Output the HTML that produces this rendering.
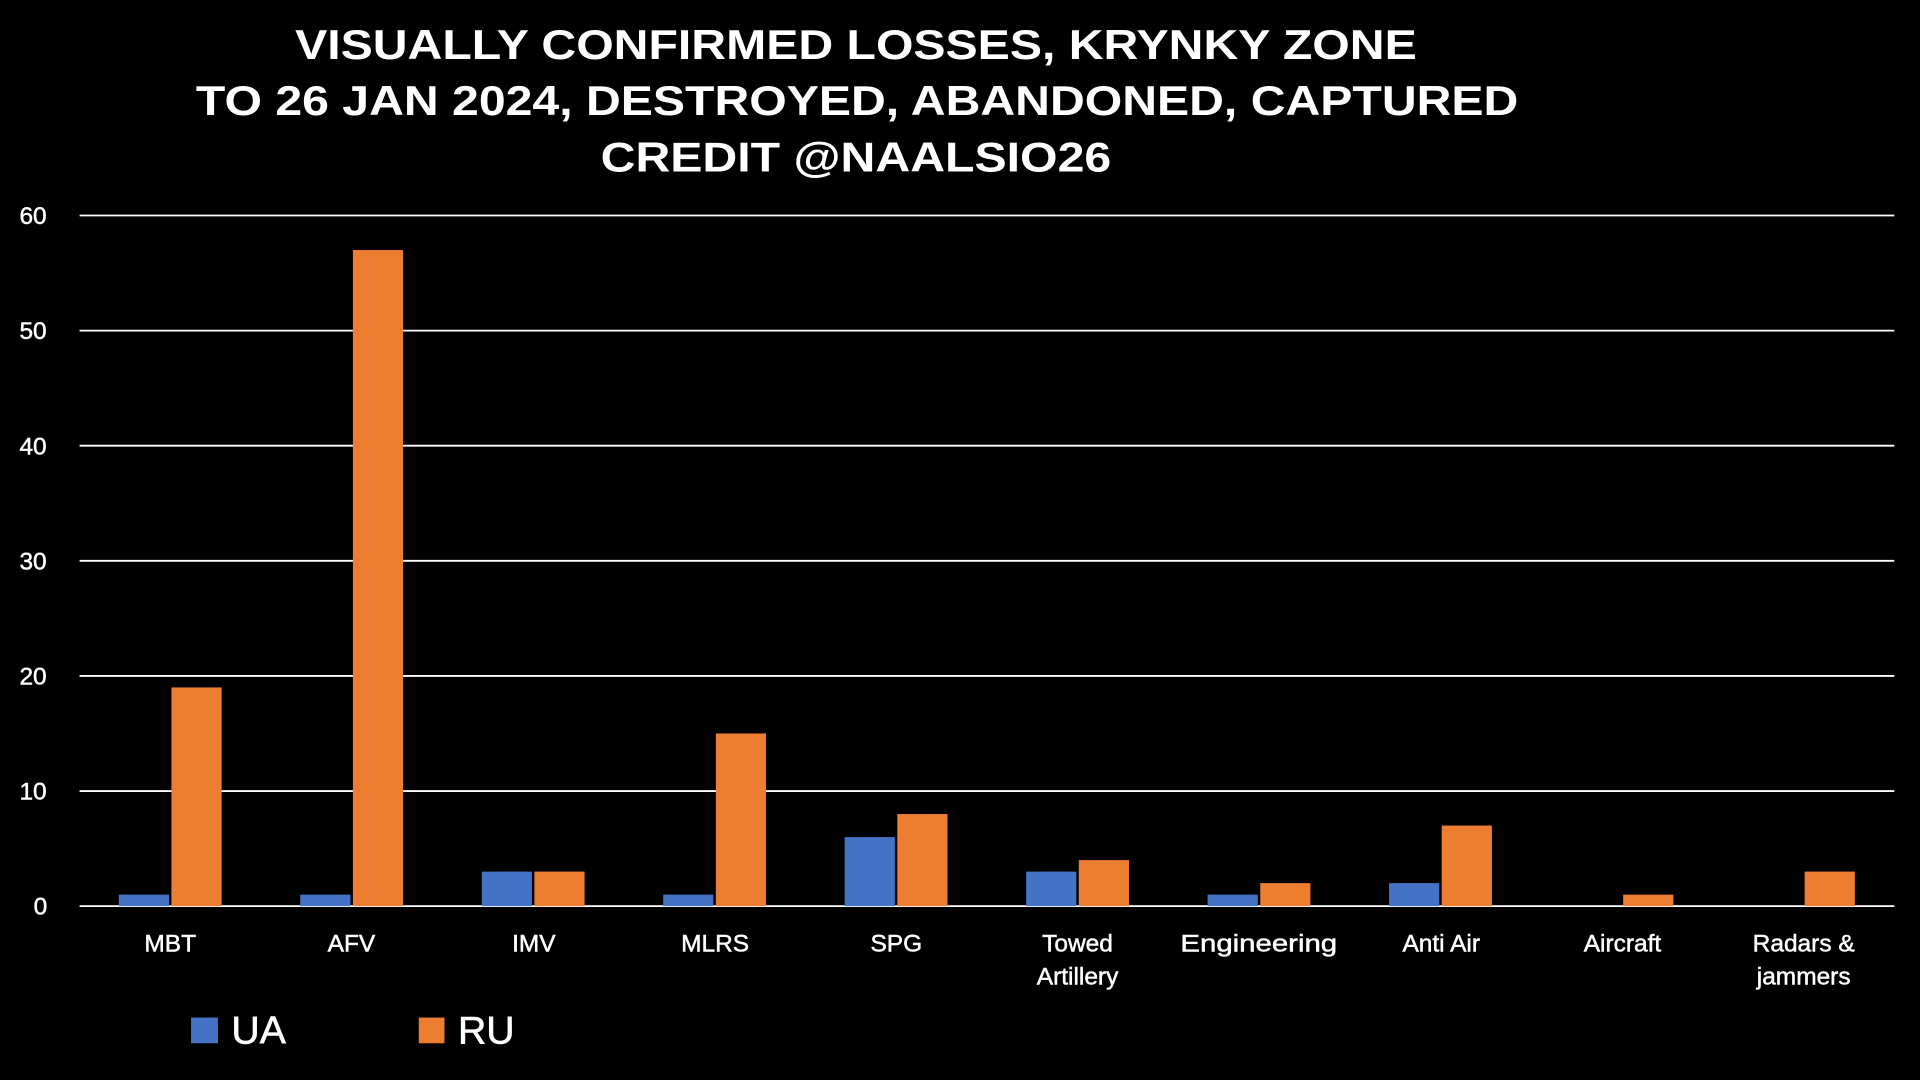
<!DOCTYPE html>
<html><head><meta charset="utf-8"><style>
html,body{margin:0;padding:0;background:#000;width:1920px;height:1080px;overflow:hidden}
svg{display:block}
text{font-family:"Liberation Sans",Arial,sans-serif;fill:#fff}
</style></head><body>
<svg width="1920" height="1080" viewBox="0 0 1568 882" xmlns="http://www.w3.org/2000/svg">
<rect width="1568" height="882" fill="#000"/>
<g font-size="34" font-weight="bold" text-anchor="middle" lengthAdjust="spacingAndGlyphs">
<text x="699" y="48" textLength="916" lengthAdjust="spacingAndGlyphs">VISUALLY CONFIRMED LOSSES, KRYNKY ZONE</text>
<text x="700" y="94" textLength="1080" lengthAdjust="spacingAndGlyphs">TO 26 JAN 2024, DESTROYED, ABANDONED, CAPTURED</text>
<text x="699" y="140" textLength="417" lengthAdjust="spacingAndGlyphs">CREDIT @NAALSIO26</text>
</g>
<g stroke="#fff" stroke-width="1.5">
<line x1="65" x2="1547" y1="176" y2="176"/>
<line x1="65" x2="1547" y1="270" y2="270"/>
<line x1="65" x2="1547" y1="364" y2="364"/>
<line x1="65" x2="1547" y1="458" y2="458"/>
<line x1="65" x2="1547" y1="552" y2="552"/>
<line x1="65" x2="1547" y1="646" y2="646"/>
<line x1="65" x2="1547" y1="740" y2="740"/>
</g>
<g font-size="20" text-anchor="middle" stroke="#fff" stroke-width="0.4">
<text x="27" y="183">60</text><text x="27" y="277">50</text><text x="27" y="371">40</text>
<text x="27" y="465">30</text><text x="27" y="559">20</text><text x="27" y="653">10</text>
<text x="33" y="747">0</text>
</g>
<g fill="#4472C4">
<rect x="97" y="730.6" width="41" height="9.4"/>
<rect x="245.2" y="730.6" width="41" height="9.4"/>
<rect x="393.4" y="711.8" width="41" height="28.2"/>
<rect x="541.6" y="730.6" width="41" height="9.4"/>
<rect x="689.8" y="683.6" width="41" height="56.4"/>
<rect x="838" y="711.8" width="41" height="28.2"/>
<rect x="986.2" y="730.6" width="41" height="9.4"/>
<rect x="1134.4" y="721.2" width="41" height="18.8"/>
</g>
<g fill="#ED7D31">
<rect x="140" y="561.4" width="41" height="178.6"/>
<rect x="288.2" y="204.2" width="41" height="535.8"/>
<rect x="436.4" y="711.8" width="41" height="28.2"/>
<rect x="584.6" y="599" width="41" height="141"/>
<rect x="732.8" y="664.8" width="41" height="75.2"/>
<rect x="881" y="702.4" width="41" height="37.6"/>
<rect x="1029.2" y="721.2" width="41" height="18.8"/>
<rect x="1177.4" y="674.2" width="41" height="65.8"/>
<rect x="1325.6" y="730.6" width="41" height="9.4"/>
<rect x="1473.8" y="711.8" width="41" height="28.2"/>
</g>
<g font-size="20" text-anchor="middle" stroke="#fff" stroke-width="0.4">
<text x="139" y="777">MBT</text>
<text x="287" y="777">AFV</text>
<text x="436" y="777">IMV</text>
<text x="584" y="777">MLRS</text>
<text x="732" y="777">SPG</text>
<text x="880" y="777">Towed</text><text x="880" y="804">Artillery</text>
<text x="1028" y="777" textLength="128" lengthAdjust="spacingAndGlyphs">Engineering</text>
<text x="1177" y="777">Anti Air</text>
<text x="1325" y="777">Aircraft</text>
<text x="1473" y="777">Radars &amp;</text><text x="1473" y="804">jammers</text>
</g>
<rect x="156" y="831" width="22" height="21" fill="#4472C4"/>
<text x="189" y="852" font-size="32" stroke="#fff" stroke-width="0.5">UA</text>
<rect x="342" y="831" width="21" height="21" fill="#ED7D31"/>
<text x="374" y="852" font-size="32" stroke="#fff" stroke-width="0.5">RU</text>
</svg>
</body></html>
